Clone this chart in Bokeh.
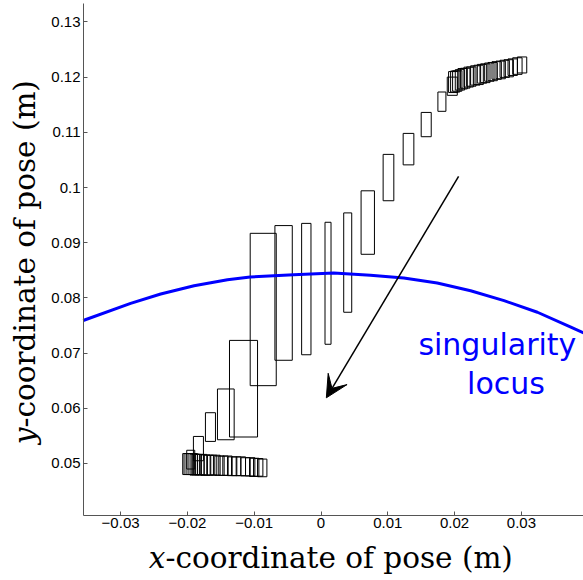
import math
from bokeh.plotting import figure
from bokeh.models import Range1d, FixedTicker, Label, Arrow, VeeHead, LinearAxis
from bokeh.embed import file_html
from bokeh.resources import INLINE

# ---------------- data ----------------
x_ticks = [-0.03, -0.02, -0.01, 0.0, 0.01, 0.02, 0.03]
x_tick_labels = ["\u22120.03", "\u22120.02", "\u22120.01", "0", "0.01", "0.02", "0.03"]
y_ticks = [0.05, 0.06, 0.07, 0.08, 0.09, 0.10, 0.11, 0.12, 0.13]
y_tick_labels = ["0.05", "0.06", "0.07", "0.08", "0.09", "0.1", "0.11", "0.12", "0.13"]

# axes extent (data limits of the drawn axes)
x_lim = [-0.035554, 0.039296]
y_lim = [0.040580, 0.133334]

# singularity locus
sing_x = [-0.0356, -0.0285, -0.0240, -0.0190, -0.0140, -0.0106, -0.0041, 0.0019,
          0.0074, 0.0124, 0.0174, 0.0224, 0.0274, 0.0324, 0.0374, 0.0394]
sing_y = [0.0759, 0.0790, 0.0807, 0.0822, 0.0833, 0.0838, 0.0842, 0.0845,
          0.0841, 0.0836, 0.0827, 0.0813, 0.0795, 0.0774, 0.0747, 0.0736]

# isolated pose boxes (left, right, bottom, top)
box_left   = [-0.0201, -0.0191, -0.0173, -0.0155, -0.0137, -0.0106, -0.0069, -0.0029,
              0.0006, 0.0034, 0.0060, 0.0093, 0.0123, 0.0150, 0.0175, 0.0189]
box_right  = [-0.0189, -0.0176, -0.0158, -0.0130, -0.0095, -0.0067, -0.0043, -0.0015,
              0.0015, 0.0046, 0.0080, 0.0109, 0.0139, 0.0165, 0.0187, 0.0204]
box_bottom = [0.0490, 0.0505, 0.0540, 0.0543, 0.0548, 0.0641, 0.0687, 0.0697,
              0.0716, 0.0774, 0.0879, 0.0976, 0.1041, 0.1092, 0.1138, 0.1167]
box_top    = [0.0524, 0.0549, 0.0592, 0.0635, 0.0723, 0.0917, 0.0931, 0.0935,
              0.0937, 0.0954, 0.0994, 0.1060, 0.1098, 0.1136, 0.1173, 0.1200]

# dense cluster of poses near the start (bottom-left)
low_x = [-0.0200, -0.0198, -0.0195, -0.0192, -0.0189, -0.0186, -0.0182, -0.0178,
         -0.0173, -0.0168, -0.0163, -0.0158, -0.0152, -0.0146, -0.0140, -0.0133,
         -0.0127, -0.0120, -0.0113, -0.0106, -0.0100, -0.0094, -0.0088]
low_y = [0.0499, 0.0499, 0.0499, 0.0499, 0.0498, 0.0498, 0.0498, 0.0498,
         0.0497, 0.0497, 0.0497, 0.0497, 0.0496, 0.0496, 0.0496, 0.0495,
         0.0495, 0.0495, 0.0494, 0.0494, 0.0493, 0.0493, 0.0492]
low_w = [0.0014] * 23
low_h = [0.0038, 0.0038, 0.0038, 0.0038, 0.0038, 0.0037, 0.0037, 0.0037,
         0.0037, 0.0036, 0.0036, 0.0036, 0.0035, 0.0035, 0.0035, 0.0034,
         0.0034, 0.0034, 0.0033, 0.0033, 0.0033, 0.0032, 0.0032]

# dense cluster of poses near the end (top-right)
high_x = [0.0198, 0.0201, 0.0204, 0.0208, 0.0212, 0.0216, 0.0221, 0.0225, 0.0231,
          0.0236, 0.0241, 0.0246, 0.0252, 0.0257, 0.0263, 0.0269, 0.0275, 0.0281,
          0.0287, 0.0294, 0.0301]
high_y = [0.1191, 0.1192, 0.1193, 0.1195, 0.1197, 0.1198, 0.1200, 0.1201, 0.1203,
          0.1204, 0.1206, 0.1207, 0.1209, 0.1210, 0.1212, 0.1213, 0.1215, 0.1216,
          0.1218, 0.1220, 0.1222]
high_w = [0.0014] * 21
high_h = [0.0038, 0.0038, 0.0037, 0.0037, 0.0037, 0.0036, 0.0036, 0.0035, 0.0035,
          0.0035, 0.0034, 0.0034, 0.0033, 0.0033, 0.0032, 0.0032, 0.0031, 0.0031,
          0.0030, 0.0030, 0.0029]

arrow_start = (0.0206, 0.1020)
arrow_end = (0.0008, 0.0619)

# ---------------- figure ----------------
# The frame fills the whole canvas; axes are drawn at fixed data locations so
# that the axis titles can live inside the frame.
p = figure(width=583, height=580, output_backend="svg", toolbar_location=None,
           x_range=Range1d(-0.047979, 0.039296), y_range=Range1d(0.028804, 0.133877),
           x_axis_location=None, y_axis_location=None,
           min_border_left=0, min_border_right=0, min_border_top=0, min_border_bottom=0)
p.xgrid.visible = False
p.ygrid.visible = False
p.outline_line_color = None
p.background_fill_color = "white"
p.border_fill_color = "white"

xax = LinearAxis(fixed_location=y_lim[0], bounds=(x_lim[0], x_lim[1]))
yax = LinearAxis(fixed_location=x_lim[0], bounds=(y_lim[0], y_lim[1]))
p.add_layout(xax, "below")
p.add_layout(yax, "left")

for ax, ticks, labels in ((xax, x_ticks, x_tick_labels), (yax, y_ticks, y_tick_labels)):
    ax.ticker = FixedTicker(ticks=ticks)
    ax.major_label_overrides = {t: s for t, s in zip(ticks, labels)}
    ax.major_tick_in = 4
    ax.major_tick_out = 0
    ax.minor_tick_in = 0
    ax.minor_tick_out = 0
    ax.axis_line_color = "#555555"
    ax.major_tick_line_color = "#555555"
    ax.major_label_text_font = "Liberation Sans"
    ax.major_label_text_font_size = "15px"
    ax.major_label_text_color = "black"
    ax.major_label_standoff = 3

p.quad(left=box_left, right=box_right, bottom=box_bottom, top=box_top,
       fill_color=None, line_color="black", line_width=1)
p.rect(x=low_x, y=low_y, width=low_w, height=low_h,
       fill_color=None, line_color="black", line_width=1)
p.rect(x=high_x, y=high_y, width=high_w, height=high_h,
       fill_color=None, line_color="black", line_width=1)

p.line(sing_x, sing_y, line_color="#0000ff", line_width=3)

p.add_layout(Arrow(end=VeeHead(size=22, fill_color="black", line_color="black", line_width=1),
                   x_start=arrow_start[0], y_start=arrow_start[1],
                   x_end=arrow_end[0], y_end=arrow_end[1],
                   line_color="black", line_width=1.5))

p.add_layout(Label(x=0.0264, y=0.07150, text="singularity", text_font="DejaVu Sans",
                   text_font_size="30px", text_color="#0000ff", text_align="center",
                   text_baseline="alphabetic"))
p.add_layout(Label(x=0.0277, y=0.06455, text="locus", text_font="DejaVu Sans",
                   text_font_size="30px", text_color="#0000ff", text_align="center",
                   text_baseline="alphabetic"))

# axis titles: italic variable + roman remainder, joined at a common anchor
lab_font = "DejaVu Serif"
lab_size = "29.5px"
xlab_anchor = (-0.023278, 0.032790)
ylab_anchor = (-0.044386, 0.056522)
p.add_layout(Label(x=xlab_anchor[0], y=xlab_anchor[1], text="x", text_color="black",
                   text_font=lab_font, text_font_size=lab_size, text_font_style="italic",
                   text_align="right", text_baseline="alphabetic"))
p.add_layout(Label(x=xlab_anchor[0], y=xlab_anchor[1], text="-coordinate of pose (m)",
                   text_color="black", text_font=lab_font, text_font_size=lab_size,
                   text_align="left", text_baseline="alphabetic"))
p.add_layout(Label(x=ylab_anchor[0], y=ylab_anchor[1], text="y", angle=math.pi / 2,
                   text_color="black", text_font=lab_font, text_font_size=lab_size,
                   text_font_style="italic", text_align="right", text_baseline="alphabetic"))
p.add_layout(Label(x=ylab_anchor[0], y=ylab_anchor[1], text="-coordinate of pose (m)",
                   angle=math.pi / 2, text_color="black", text_font=lab_font,
                   text_font_size=lab_size, text_align="left", text_baseline="alphabetic"))

open("out.html", "w").write(file_html(p, INLINE))
